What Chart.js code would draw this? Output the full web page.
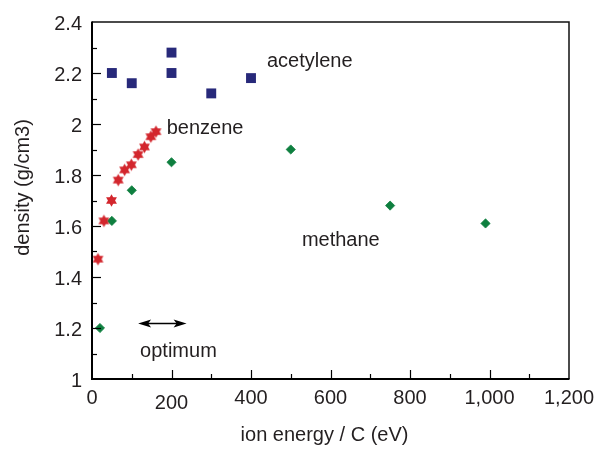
<!DOCTYPE html>
<html>
<head>
<meta charset="utf-8">
<script src="https://cdn.jsdelivr.net/npm/chart.js@4.4.0/dist/chart.umd.min.js"></script>
<style>
  html, body { margin: 0; padding: 0; background: #ffffff; }
  #wrap { width: 597px; height: 453px; position: relative; }
</style>
</head>
<body>
<div id="wrap"><canvas id="c" width="597" height="453"></canvas></div>
<script>
// ---- data ----
const acetyleneX = [50, 100, 200, 200, 300, 400];
const acetyleneY = [2.20, 2.16, 2.28, 2.20, 2.12, 2.18];

const benzeneX = [15, 30, 49, 66, 82, 99, 116, 132, 148, 161];
const benzeneY = [1.47, 1.62, 1.70, 1.78, 1.82, 1.84, 1.88, 1.91, 1.95, 1.97];

const methaneX = [20, 50, 100, 200, 500, 750, 990];
const methaneY = [1.20, 1.62, 1.74, 1.85, 1.90, 1.68, 1.61];

const xTickLabels = ['0', '200', '400', '600', '800', '1,000', '1,200'];
const yTickLabels = ['1', '1.2', '1.4', '1.6', '1.8', '2', '2.2', '2.4'];

const seriesNames = ['acetylene', 'benzene', 'methane'];
const xTitle = 'ion energy / C (eV)';
const yTitle = 'density (g/cm3)';
const optimumText = 'optimum';
// optimum range indicated by the arrow (eV)
const optimumRange = [116, 238];

// ---- styling ----
const FONT = '"Liberation Sans", Arial, Helvetica, sans-serif';
const TEXT = '#231f20';
const NAVY = '#27297a';
const RED = '#d3262d';
const GREEN = '#0e7f3f';

function toPts(xs, ys) { return xs.map((x, i) => ({ x: x, y: ys[i] })); }

// six-pointed star point style
function makeStar(color) {
  const s = 15, c = document.createElement('canvas');
  c.width = s; c.height = s;
  const g = c.getContext('2d');
  const cx = s / 2, cy = s / 2, R = 6.3;
  g.fillStyle = color;
  for (let t = 0; t < 2; t++) {
    g.beginPath();
    for (let k = 0; k < 3; k++) {
      const a = -Math.PI / 2 + t * Math.PI + k * 2 * Math.PI / 3;
      const px = cx + R * Math.cos(a), py = cy + R * Math.sin(a);
      if (k === 0) g.moveTo(px, py); else g.lineTo(px, py);
    }
    g.closePath();
    g.fill();
  }
  return c;
}
const starImg = makeStar(RED);

// annotations placed in data coordinates
const annotations = [
  { text: seriesNames[0], x: 440, y: 2.222 },
  { text: seriesNames[1], x: 188, y: 1.959 },
  { text: seriesNames[2], x: 528, y: 1.52 },
  { text: optimumText, x: 121, y: 1.086 }
];

const decor = {
  id: 'decor',
  afterDraw(chart) {
    const ctx = chart.ctx, a = chart.chartArea;
    const xs = chart.scales.x, ys = chart.scales.y;
    ctx.save();
    // frame
    ctx.strokeStyle = '#111';
    ctx.lineWidth = 1.5;
    ctx.beginPath();
    ctx.moveTo(a.left, a.top); ctx.lineTo(a.right, a.top); ctx.lineTo(a.right, a.bottom);
    ctx.stroke();
    ctx.lineWidth = 2;
    ctx.strokeStyle = '#000';
    ctx.beginPath();
    ctx.moveTo(a.left, a.top - 0.5); ctx.lineTo(a.left, a.bottom); ctx.lineTo(a.right + 0.5, a.bottom);
    ctx.stroke();
    // inward ticks
    ctx.lineWidth = 1.2;
    xs.ticks.forEach(t => {
      const v = t.value;
      if (v <= 0 || v >= 1200) return;
      const px = Math.round(xs.getPixelForValue(v)) + 0.5;
      const len = (v % 200 === 0) ? 9 : 5;
      ctx.beginPath(); ctx.moveTo(px, a.bottom); ctx.lineTo(px, a.bottom - len); ctx.stroke();
    });
    ys.ticks.forEach(t => {
      const v = t.value;
      if (v <= 1.0001 || v >= 2.3999) return;
      const py = Math.round(ys.getPixelForValue(v)) + 0.5;
      const major = Math.round(v * 10) % 2 === 0;
      const len = major ? 9 : 5;
      ctx.beginPath(); ctx.moveTo(a.left, py); ctx.lineTo(a.left + len, py); ctx.stroke();
    });
    // x tick labels
    ctx.fillStyle = TEXT;
    ctx.font = '20px ' + FONT;
    ctx.textAlign = 'center';
    ctx.textBaseline = 'alphabetic';
    xTickLabels.forEach((lab, i) => {
      const v = i * 200;
      const px = xs.getPixelForValue(v);
      const base = a.bottom + (v === 200 ? 29.5 : 25);
      ctx.fillText(lab, px, base);
    });
    // axis titles
    ctx.textAlign = 'center';
    ctx.fillText(xTitle, (a.left + a.right) / 2 - 6, a.bottom + 61.5);
    ctx.save();
    ctx.translate(28.5, (a.top + a.bottom) / 2 - 13);
    ctx.rotate(-Math.PI / 2);
    ctx.fillText(yTitle, 0, 0);
    ctx.restore();
    // annotations
    ctx.textAlign = 'left';
    annotations.forEach(an => {
      ctx.fillText(an.text, xs.getPixelForValue(an.x), ys.getPixelForValue(an.y));
    });
    // double-headed arrow for optimum
    const x1 = xs.getPixelForValue(optimumRange[0]);
    const x2 = xs.getPixelForValue(optimumRange[1]);
    const ay = Math.round(ys.getPixelForValue(1.219)) + 0.5;
    ctx.strokeStyle = '#000';
    ctx.fillStyle = '#000';
    ctx.lineWidth = 1.5;
    ctx.beginPath(); ctx.moveTo(x1 + 6, ay); ctx.lineTo(x2 - 6, ay); ctx.stroke();
    const hl = 13, hw = 4;
    ctx.beginPath(); ctx.moveTo(x1, ay); ctx.lineTo(x1 + hl, ay - hw); ctx.lineTo(x1 + hl - 3, ay); ctx.lineTo(x1 + hl, ay + hw); ctx.closePath(); ctx.fill();
    ctx.beginPath(); ctx.moveTo(x2, ay); ctx.lineTo(x2 - hl, ay - hw); ctx.lineTo(x2 - hl + 3, ay); ctx.lineTo(x2 - hl, ay + hw); ctx.closePath(); ctx.fill();
    ctx.restore();
  }
};

new Chart(document.getElementById('c'), {
  type: 'scatter',
  data: {
    datasets: [
      { label: seriesNames[0], data: toPts(acetyleneX, acetyleneY), pointStyle: 'rect', pointRadius: 7, pointHoverRadius: 7,
        backgroundColor: NAVY, borderColor: NAVY, borderWidth: 0 },
      { label: seriesNames[1], data: toPts(benzeneX, benzeneY), pointStyle: starImg,
        backgroundColor: RED, borderColor: RED },
      { label: seriesNames[2], data: toPts(methaneX, methaneY), pointStyle: 'rectRot', pointRadius: 4.6, pointHoverRadius: 4.6,
        backgroundColor: GREEN, borderColor: GREEN, borderWidth: 0.8 }
    ]
  },
  options: {
    responsive: false,
    animation: false,
    events: [],
    layout: { padding: { left: 0, right: 28, top: 18, bottom: 0 } },
    plugins: { legend: { display: false }, tooltip: { enabled: false }, title: { display: false } },
    scales: {
      x: {
        type: 'linear', min: 0, max: 1200,
        afterFit(s) { s.height = 74; },
        grid: { display: false, drawTicks: false },
        border: { display: false },
        ticks: { display: false, stepSize: 100, autoSkip: false }
      },
      y: {
        type: 'linear', min: 1, max: 2.4,
        afterFit(s) { s.width = 92; },
        grid: { display: false, drawTicks: false },
        border: { display: false },
        ticks: {
          stepSize: 0.1, autoSkip: false, padding: 10, labelOffset: 2.5,
          color: TEXT, font: { family: FONT, size: 20 },
          callback(v) {
            const k = Math.round(v * 10);
            return k % 2 === 0 ? yTickLabels[(k - 10) / 2] : '';
          }
        }
      }
    }
  },
  plugins: [decor]
});
</script>
</body>
</html>
